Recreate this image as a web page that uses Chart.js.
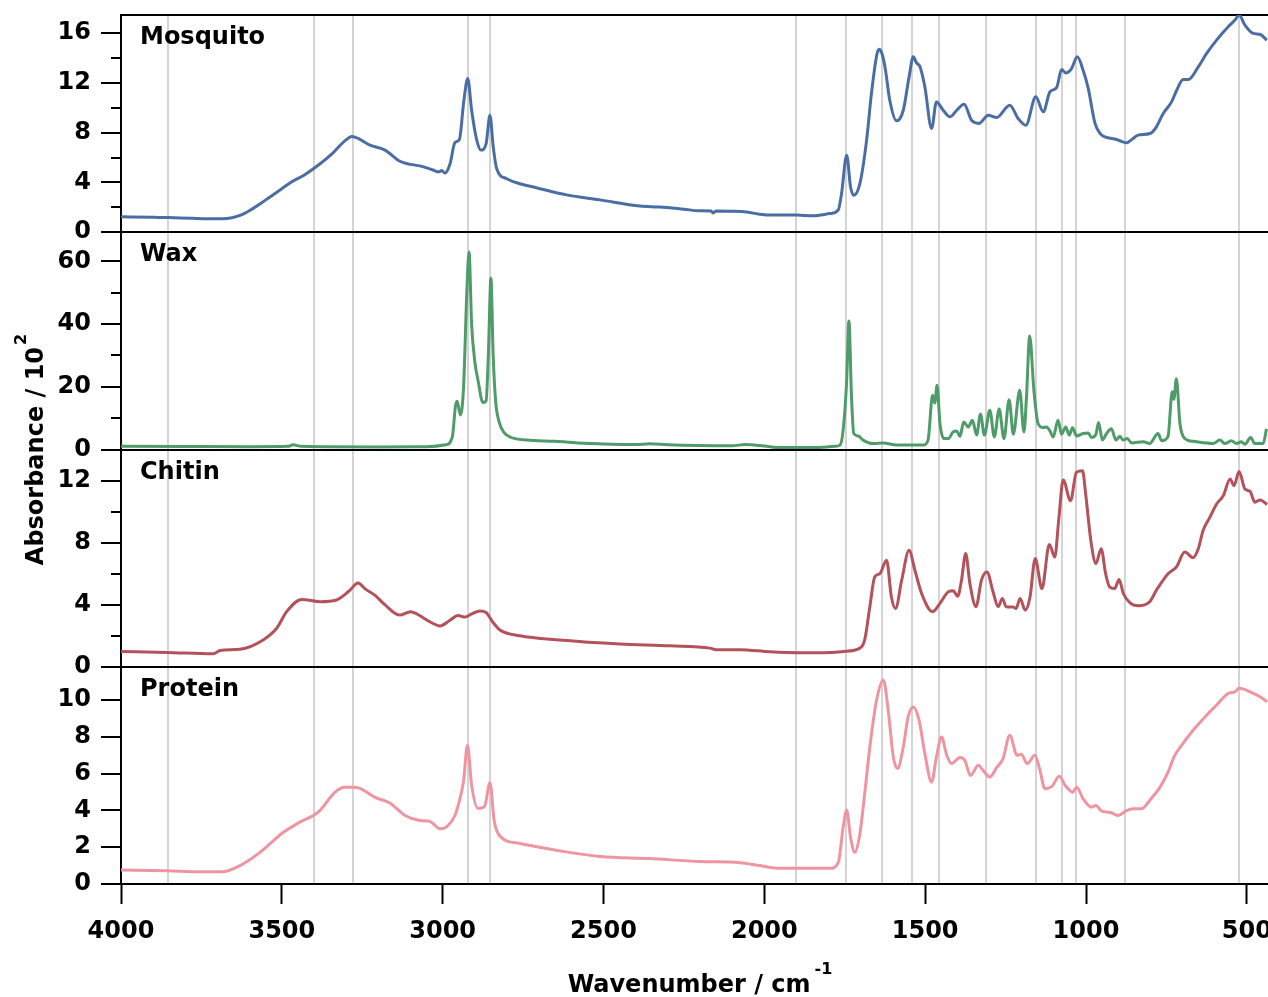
<!DOCTYPE html>
<html>
<head>
<meta charset="utf-8">
<script src="https://cdn.jsdelivr.net/npm/chart.js@4"></script>
<style>
  html, body { margin: 0; padding: 0; background: #fff; overflow: hidden; }
  canvas { display: block; }
</style>
</head>
<body>
<canvas id="myChart" width="1300" height="997"></canvas>
<script>
// wavenumber (cm-1), absorbance / 10^2
const mosquito = [
  [4000,1.25],[3900,1.2],[3854,1.18],[3780,1.12],[3700,1.08],[3670,1.1],[3630,1.35],[3600,1.75],
  [3550,2.6],[3500,3.5],[3475,3.96],[3430,4.6],[3381,5.5],[3340,6.4],[3310,7.2],[3282,7.7],
  [3260,7.5],[3226,7.0],[3179,6.6],[3133,5.7],[3100,5.45],[3071,5.33],[3030,5.0],[3012,4.85],
  [3003,4.95],[2993,4.75],[2977,5.5],[2962,7.2],[2948,7.45],[2934,10.6],[2922,12.35],[2910,9.8],
  [2894,7.4],[2881,6.6],[2865,7.1],[2853,9.4],[2843,6.9],[2832,5.1],[2801,4.3],[2760,3.9],
  [2718,3.64],[2615,3.0],[2511,2.6],[2387,2.1],[2325,2.03],[2250,1.85],[2200,1.72],[2165,1.7],
  [2159,1.55],[2150,1.7],[2107,1.69],[2055,1.63],[2014,1.45],[1973,1.38],[1900,1.38],[1849,1.32],
  [1796,1.5],[1770,1.8],[1760,3.1],[1744,6.19],[1732,3.64],[1722,2.97],[1703,3.9],[1682,7.4],
  [1667,11.15],[1650,14.3],[1643,14.69],[1635,14.4],[1625,13.3],[1610,10.6],[1589,8.95],[1568,9.8],
  [1550,12.48],[1537,14.09],[1527,13.6],[1516,13.3],[1501,11.68],[1480,8.33],[1465,10.47],[1444,9.8],
  [1423,9.27],[1402,9.8],[1379,10.29],[1356,9.0],[1333,8.74],[1304,9.4],[1278,9.22],[1237,10.21],
  [1211,9.14],[1187,8.6],[1156,10.88],[1133,9.67],[1112,11.28],[1091,11.63],[1076,13.08],[1063,12.8],
  [1045,13.15],[1027,14.09],[1009,13.02],[993,11.55],[972,8.74],[955,7.9],[941,7.66],[905,7.45],
  [890,7.3],[874,7.18],[855,7.5],[838,7.8],[801,7.93],[781,8.47],[760,9.54],[734,10.47],
  [718,11.41],[698,12.27],[682,12.27],[651,13.29],[625,14.36],[594,15.43],[558,16.5],[537,17.04],
  [524,17.44],[506,16.64],[480,15.97],[459,15.9],[438,15.43]
];

const wax = [
  [4000,1.0],[3800,0.95],[3600,0.9],[3480,1.0],[3465,1.5],[3440,1.0],[3200,0.8],[3050,0.9],
  [2990,1.5],[2970,4],[2960,14],[2955,15.4],[2945,11],[2935,20],[2925,50],[2918,63],
  [2910,40],[2900,28],[2890,22],[2875,15],[2865,15.5],[2858,30],[2850,54.6],[2843,30],
  [2835,15],[2825,9],[2810,5.5],[2780,3.6],[2740,3.0],[2650,2.6],[2560,2.0],[2400,1.6],
  [2356,1.8],[2300,1.5],[2100,1.2],[2060,1.6],[2000,1.1],[1950,0.6],[1850,0.6],[1780,1.0],
  [1765,1.4],[1755,6.2],[1744,22],[1737,41],[1729,16.8],[1722,5.1],[1708,4.3],[1693,3.0],
  [1662,1.9],[1630,2.1],[1589,1.4],[1506,1.4],[1491,3.0],[1477,17.3],[1470,14.8],[1463,20.5],
  [1454,8.3],[1442,3.5],[1428,3.5],[1413,5.6],[1402,5.9],[1392,4.2],[1380,8.8],[1366,7.2],
  [1353,9.3],[1340,4.6],[1328,11.3],[1316,4.6],[1299,12.5],[1285,4.0],[1270,12.9],[1255,3.5],
  [1239,15.9],[1226,4.9],[1206,18.9],[1193,5.6],[1185,16.8],[1175,36.2],[1162,18.9],[1149,8.3],
  [1133,7.0],[1123,7.2],[1112,5.9],[1102,4.0],[1087,9.3],[1076,4.9],[1063,7.2],[1052,4.6],
  [1042,6.9],[1029,4.3],[1009,5.1],[993,5.3],[983,3.8],[969,4.9],[961,8.6],[949,3.0],
  [936,5.1],[921,6.6],[907,3.0],[895,4.2],[884,3.0],[872,3.5],[858,2.1],[822,2.5],
  [802,1.9],[776,5.1],[765,2.8],[745,4.2],[732,18.4],[727,16],[719,22.6],[708,8.3],
  [693,3.5],[667,2.6],[605,1.9],[584,3.0],[568,1.9],[548,2.8],[532,1.9],[517,2.5],
  [506,1.7],[488,3.8],[475,1.9],[449,1.9],[439,6.6]
];

const chitin = [
  [4000,0.98],[3858,0.92],[3713,0.83],[3692,1.05],[3630,1.13],[3558,1.73],[3516,2.48],[3485,3.55],
  [3438,4.34],[3381,4.19],[3330,4.3],[3290,4.9],[3263,5.4],[3240,5.0],[3210,4.6],[3180,4.0],
  [3133,3.33],[3100,3.55],[3080,3.4],[3040,2.9],[3008,2.63],[2977,3.0],[2952,3.3],[2930,3.2],
  [2910,3.4],[2884,3.6],[2865,3.5],[2845,2.9],[2822,2.37],[2760,2.0],[2636,1.73],[2449,1.47],
  [2294,1.35],[2169,1.2],[2150,1.1],[2076,1.1],[1983,0.96],[1889,0.9],[1796,0.92],[1755,0.98],
  [1703,1.2],[1688,1.73],[1672,3.87],[1657,5.79],[1641,6.0],[1620,6.86],[1605,4.5],[1592,3.76],
  [1573,5.58],[1550,7.5],[1532,6.22],[1511,4.72],[1477,3.55],[1454,4.08],[1428,4.83],[1413,4.89],
  [1399,4.55],[1387,5.58],[1374,7.29],[1361,5.37],[1342,3.87],[1325,5.58],[1308,6.11],[1289,4.83],
  [1273,3.87],[1260,4.4],[1248,3.87],[1227,3.85],[1217,3.76],[1205,4.4],[1189,3.65],[1174,4.5],
  [1158,6.97],[1137,5.04],[1114,7.88],[1097,7.07],[1085,9.42],[1071,12.03],[1048,10.7],[1030,12.52],
  [1011,12.63],[1001,11.13],[985,8.14],[969,6.65],[953,7.6],[939,6.0],[927,5.15],[911,5.04],
  [897,5.62],[884,4.72],[863,4.12],[837,3.93],[802,4.19],[781,4.94],[745,6.0],[719,6.43],
  [693,7.39],[667,7.03],[651,7.6],[636,8.78],[615,9.63],[594,10.49],[573,11.03],[552,12.1],
  [540,11.67],[524,12.58],[506,11.45],[490,11.3],[475,10.6],[459,10.75],[437,10.45]
];

const protein = [
  [4000,0.76],[3858,0.72],[3754,0.67],[3682,0.67],[3630,1.0],[3568,1.72],[3495,2.81],[3444,3.36],
  [3387,3.9],[3335,4.98],[3304,5.25],[3280,5.25],[3257,5.19],[3210,4.7],[3164,4.4],[3117,3.72],
  [3071,3.45],[3040,3.4],[3008,3.0],[2987,3.12],[2962,3.72],[2946,4.65],[2935,5.6],[2923,7.54],
  [2910,5.37],[2890,4.1],[2870,4.2],[2853,5.5],[2840,3.45],[2822,2.6],[2760,2.2],[2636,1.8],
  [2511,1.5],[2356,1.38],[2200,1.22],[2076,1.16],[2014,1.0],[1952,0.85],[1796,0.85],[1770,1.18],
  [1755,3.08],[1744,4.0],[1732,2.54],[1719,1.72],[1703,2.72],[1688,4.9],[1672,7.44],[1651,9.99],
  [1630,11.08],[1615,9.44],[1599,6.9],[1586,6.27],[1568,7.44],[1553,9.08],[1537,9.62],[1519,8.9],
  [1501,7.08],[1480,5.54],[1465,6.9],[1449,7.99],[1433,6.99],[1418,6.54],[1392,6.87],[1377,6.72],
  [1359,5.9],[1335,6.45],[1320,6.17],[1299,5.81],[1278,6.32],[1258,6.81],[1237,8.08],[1214,6.99],
  [1201,7.05],[1183,6.54],[1159,6.99],[1143,6.17],[1128,5.18],[1106,5.3],[1083,5.85],[1065,5.36],
  [1041,4.99],[1029,5.26],[1009,4.63],[983,4.17],[969,4.27],[951,3.96],[926,3.9],[901,3.72],
  [874,3.99],[853,4.09],[827,4.09],[802,4.54],[770,5.26],[745,6.08],[724,6.99],[708,7.41],
  [667,8.35],[625,9.17],[594,9.72],[558,10.35],[537,10.44],[524,10.63],[490,10.44],[459,10.17],
  [437,9.9]
];

// band positions marked with grey lines
const bands = [3854, 3400, 3280, 2922, 2853, 1900, 1745, 1635, 1540, 1457, 1310, 1155, 1075, 1030, 880, 525];

const panelNames = ['Mosquito', 'Wax', 'Chitin', 'Protein'];
const panelMax = [17.45, 69.3, 14, 11.8];
const panelMajor = [4, 20, 4, 2];
const panelMinor = [2, 10, 2, 2];
const colors = ['#4a6da4', '#4f9b69', '#b4525b', '#ef94a1'];
const xTicks = [4000, 3500, 3000, 2500, 2000, 1500, 1000, 500];

const FONT = '"DejaVu Sans"';
const WEIGHT = 'bold';
Chart.defaults.font.family = FONT;
Chart.defaults.color = '#000';

const series = [mosquito, wax, chitin, protein];

const datasets = series.map((s, i) => ({
  label: panelNames[i],
  data: s.map(p => ({x: p[0], y: p[1]})),
  yAxisID: 'y' + i,
  borderColor: colors[i],
  borderWidth: 3,
  pointRadius: 0,
  cubicInterpolationMode: 'monotone',
  fill: false
}));

const scales = {
  x: {
    type: 'linear',
    position: 'bottom',
    min: 400,
    max: 4000,
    reverse: true,
    afterBuildTicks: s => { s.ticks = xTicks.map(v => ({value: v})); },
    ticks: {
      autoSkip: false,
      padding: 13,
      font: {size: 24, weight: WEIGHT},
      callback: v => String(v)
    },
    grid: {drawOnChartArea: false, tickLength: 20, tickWidth: 2, tickColor: '#000'},
    border: {display: true, color: '#000', width: 2},
    afterFit: s => { s.height = 113; s.paddingLeft = 0; s.paddingRight = 0; }
  },
  xTop: {
    type: 'linear',
    position: 'top',
    min: 400,
    max: 4000,
    reverse: true,
    ticks: {display: false},
    grid: {display: false, drawTicks: false},
    border: {display: true, color: '#000', width: 2},
    afterFit: s => { s.height = 0; s.paddingLeft = 0; s.paddingRight = 0; }
  }
};

// stacked panels, defined bottom-up because left boxes are placed in reverse order
for (let i = 3; i >= 0; i--) {
  const major = panelMajor[i];
  const minor = panelMinor[i];
  scales['y' + i] = {
    type: 'linear',
    position: 'left',
    stack: 'panels',
    stackWeight: 1,
    min: 0,
    max: panelMax[i],
    afterBuildTicks: s => {
      const t = [];
      for (let v = 0; v <= panelMax[i] + 1e-9; v += minor) t.push({value: v});
      s.ticks = t;
    },
    ticks: {
      autoSkip: false,
      padding: 10,
      font: {size: 24, weight: WEIGHT},
      callback: v => (Math.abs(v % major) < 1e-9 ? String(v) : '')
    },
    grid: {
      drawOnChartArea: true,
      color: ctx => (ctx.tick && ctx.tick.value === 0 ? '#000' : 'rgba(0,0,0,0)'),
      lineWidth: 2,
      tickLength: 20,
      tickWidth: 2,
      tickColor: '#000',
      tickBorderDash: ctx => (ctx.tick && Math.abs(ctx.tick.value % major) > 1e-9 ? [10, 10] : []),
      tickBorderDashOffset: ctx => (ctx.tick && Math.abs(ctx.tick.value % major) > 1e-9 ? 10 : 0)
    },
    border: {display: true, color: '#000', width: 2},
    afterFit: s => { s.width = 121; s.paddingTop = 0; s.paddingBottom = 0; }
  };
}

const bandLines = {
  id: 'bandLines',
  beforeDraw(chart) {
    const {ctx, chartArea, scales} = chart;
    ctx.save();
    ctx.strokeStyle = '#d4d4d4';
    ctx.lineWidth = 2;
    bands.forEach(b => {
      const x = Math.round(scales.x.getPixelForValue(b));
      ctx.beginPath();
      ctx.moveTo(x, chartArea.top);
      ctx.lineTo(x, chartArea.bottom);
      ctx.stroke();
    });
    ctx.restore();
  }
};

const labels = {
  id: 'labels',
  afterDraw(chart) {
    const {ctx, chartArea} = chart;
    const big = WEIGHT + ' 24px ' + FONT;
    const small = WEIGHT + ' 16px ' + FONT;
    ctx.save();
    ctx.fillStyle = '#000';
    ctx.font = big;
    ctx.textBaseline = 'middle';
    ctx.textAlign = 'left';
    panelNames.forEach((name, i) => {
      const s = chart.scales['y' + i];
      ctx.fillText(name, chartArea.left + 19, s.top + 23);
    });

    // x axis title with superscript
    const main = 'Wavenumber / cm';
    ctx.font = big;
    const w1 = ctx.measureText(main).width;
    ctx.font = small;
    const w2 = ctx.measureText('-1').width;
    const cx = (chartArea.left + chartArea.right) / 2;
    const x0 = cx - (w1 + w2 + 4) / 2;
    ctx.font = big;
    ctx.fillText(main, x0, 986);
    ctx.font = small;
    ctx.fillText('-1', x0 + w1 + 4, 970);

    // y axis title with superscript
    const ymain = 'Absorbance / 10';
    ctx.translate(37, (chartArea.top + chartArea.bottom) / 2);
    ctx.rotate(-Math.PI / 2);
    ctx.font = big;
    const v1 = ctx.measureText(ymain).width;
    ctx.font = small;
    const v2 = ctx.measureText('2').width;
    const y0 = -(v1 + v2 + 2) / 2;
    ctx.font = big;
    ctx.fillText(ymain, y0, 0);
    ctx.font = small;
    ctx.fillText('2', y0 + v1 + 2, -15);
    ctx.restore();
  }
};

const myChart = new Chart(document.getElementById('myChart'), {
  type: 'line',
  data: {datasets: datasets},
  options: {
    responsive: false,
    animation: false,
    layout: {padding: {left: 0, top: 15, right: 21, bottom: 0}},
    plugins: {legend: {display: false}, tooltip: {enabled: false}},
    scales: scales
  },
  plugins: [bandLines, labels]
});
</script>
</body>
</html>
